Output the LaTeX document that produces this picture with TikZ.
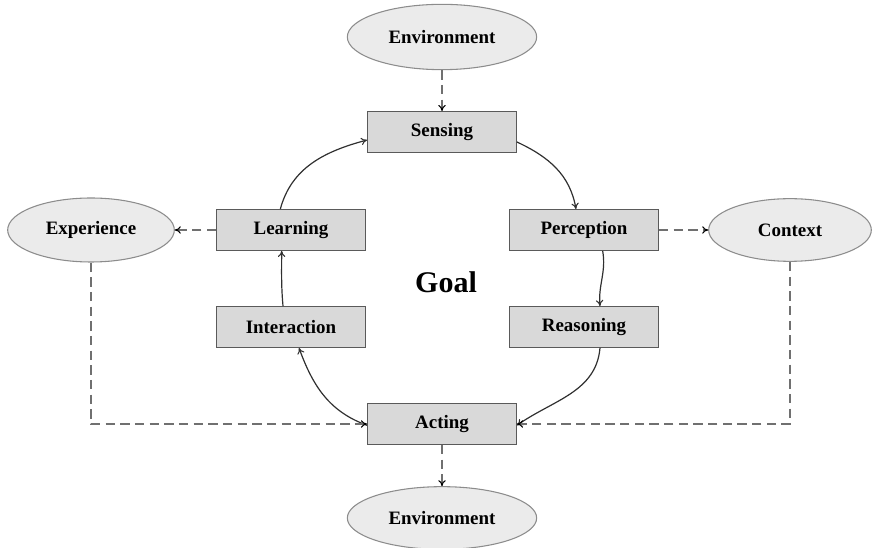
\documentclass[tikz,border=0pt]{standalone}
\usepackage{fontspec}
\setmainfont{Liberation Serif}
\usetikzlibrary{shapes.geometric,arrows.meta,calc}
\definecolor{boxfill}{HTML}{D9D9D9}
\definecolor{boxdraw}{HTML}{5A5A5A}
\definecolor{ellfill}{HTML}{EBEBEB}
\definecolor{elldraw}{HTML}{8C8C8C}
\definecolor{dashcol}{HTML}{707070}
\definecolor{curvecol}{HTML}{303030}
\begin{document}
\begin{tikzpicture}[x=0.75pt,y=-0.75pt,
  stagebox/.style={rectangle,draw=boxdraw,fill=boxfill,line width=0.9pt,
    minimum width=111.5pt,minimum height=30.5pt,inner sep=0pt,
    font=\fontsize{14.2}{16}\selectfont\bfseries},
  ctxell/.style={ellipse,draw=elldraw,fill=ellfill,line width=0.8pt,inner sep=0pt,
    font=\fontsize{14.2}{16}\selectfont\bfseries},
  dashlink/.style={draw=dashcol,line width=1.5pt,dash pattern=on 7pt off 4pt,
    -{To[length=4.5pt,width=5.5pt,color=black,line width=0.8pt]}},
  cyclelink/.style={draw=curvecol,line width=0.9pt,
    -{To[length=4.5pt,width=5.5pt,line width=0.8pt]}}]
\useasboundingbox (0,0) rectangle (872,548);

\node[ctxell,minimum width=142pt,minimum height=49pt] (envtop) at (442,37) {Environment};
\node[ctxell,minimum width=142pt,minimum height=47pt] (envbot) at (442,518) {Environment};
\node[ctxell,minimum width=125pt,minimum height=48pt] (exper) at (91,230) {Experience};
\node[ctxell,minimum width=122pt,minimum height=47pt] (context) at (790,230) {Context};

\node[stagebox] (sens) at (442,132) {Sensing};
\node[stagebox] (perc) at (584,230) {Perception};
\node[stagebox] (reas) at (584,327) {Reasoning};
\node[stagebox] (act) at (442,424) {Acting};
\node[stagebox] (inter) at (291,327) {Interaction};
\node[stagebox] (learn) at (291,230) {Learning};

\node[font=\fontsize{22.5}{24}\selectfont\bfseries] (goal) at (446,282) {Goal};

% cycle
\draw[cyclelink] ([yshift=-7.5pt]sens.east) to[out=-25,in=100] ([xshift=-6pt]perc.north);
\draw[cyclelink] ([xshift=14pt]perc.south) to[out=-80,in=95] ([xshift=12pt]reas.north);
\draw[cyclelink] ([xshift=12pt]reas.south) to[out=-95,in=35] ([yshift=-1pt]act.east);
\draw[cyclelink] ([yshift=-1pt]act.west) to[out=160,in=-70] ([xshift=6pt]inter.south);
\draw[cyclelink] ([xshift=-6pt]inter.north) to[out=95,in=-90] ([xshift=-7pt]learn.south);
\draw[cyclelink] ([xshift=-8pt]learn.north) to[out=75,in=195] ([yshift=-6pt]sens.west);

% dashed links
\draw[dashlink] (envtop.south) -- (sens.north);
\draw[dashlink] (act.south) -- (envbot.north);
\draw[dashlink] (learn.west) -- (exper.east);
\draw[dashlink] (perc.east) -- (context.west);
\draw[dashlink] (exper.south) |- (act.west);
\draw[dashlink] (context.south) |- (act.east);
\end{tikzpicture}
\end{document}
